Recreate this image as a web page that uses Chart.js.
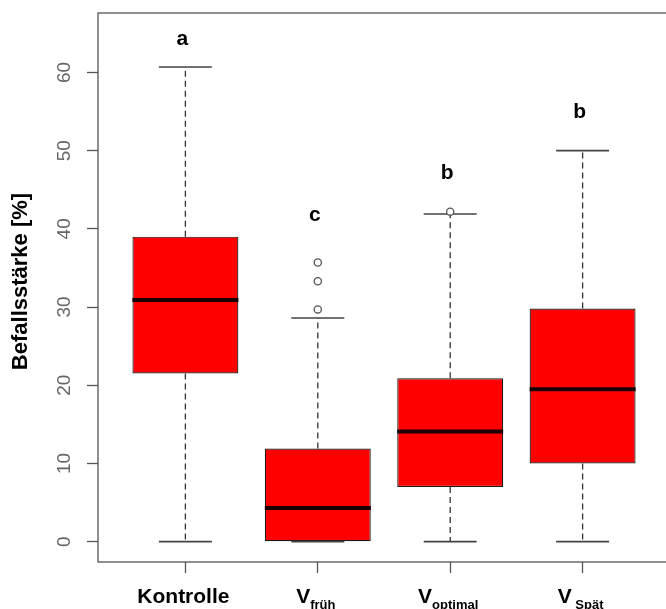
<!DOCTYPE html>
<html>
<head>
<meta charset="utf-8">
<script src="https://cdn.jsdelivr.net/npm/chart.js@4.4.1/dist/chart.umd.min.js"></script>
<style>
  html, body { margin: 0; padding: 0; background: #fff; overflow: hidden; }
  #wrap { width: 700px; height: 609px; }
</style>
</head>
<body>
<div id="wrap"><canvas id="mycanvas" width="700" height="609"></canvas></div>
<script>
// values
var categories = ['Kontrolle', 'V', 'V', 'V'];
var subLabels = ['', 'früh', 'optimal', ' Spät'];
var whiskerLow = [0, 0, 0, 0];
var q1 = [21.5, 0, 7.0, 10.0];
var median = [30.9, 4.3, 14.1, 19.5];
var q3 = [39.0, 11.9, 20.9, 29.8];
var whiskerHigh = [60.7, 28.6, 41.9, 50.0];
// outliers: [group, value]
var outliers = [[2, 29.7], [2, 33.3], [2, 35.7], [3, 42.2]];
var letters = ['a', 'c', 'b', 'b'];
var letterY = [63.5, 41.0, 46.4, 54.2];
var yTicks = [0, 10, 20, 30, 40, 50, 60];

var boxData = [], medData = [], whiskData = [], capData = [], outData = [];
for (var i = 0; i < categories.length; i++) {
  var x = i + 1;
  boxData.push({x: x, y: [q1[i], q3[i]]});
  medData.push({x: x - 0.4, y: median[i]}, {x: x + 0.4, y: median[i]}, {x: x, y: null});
  whiskData.push({x: x, y: q3[i]}, {x: x, y: whiskerHigh[i]}, {x: x, y: null});
  whiskData.push({x: x, y: q1[i]}, {x: x, y: whiskerLow[i]}, {x: x, y: null});
  capData.push({x: x - 0.2, y: whiskerHigh[i]}, {x: x + 0.2, y: whiskerHigh[i]}, {x: x, y: null});
  capData.push({x: x - 0.2, y: whiskerLow[i]}, {x: x + 0.2, y: whiskerLow[i]}, {x: x, y: null});
}
for (var j = 0; j < outliers.length; j++) {
  outData.push({x: outliers[j][0], y: outliers[j][1]});
}

var textPlugin = {
  id: 'rtext',
  afterDraw: function(chart) {
    var ctx = chart.ctx, a = chart.chartArea;
    var xs = chart.scales.x, ys = chart.scales.y;
    ctx.save();
    // frame
    ctx.strokeStyle = '#555';
    ctx.lineWidth = 1.3;
    ctx.strokeRect(a.left, a.top, a.right - a.left, a.bottom - a.top);

    // y tick labels, rotated like R
    ctx.fillStyle = '#666';
    ctx.font = '19px "Liberation Sans", Arial, sans-serif';
    ctx.textAlign = 'center';
    ctx.textBaseline = 'middle';
    yTicks.forEach(function(v) {
      ctx.save();
      ctx.translate(65, ys.getPixelForValue(v));
      ctx.rotate(-Math.PI / 2);
      ctx.fillText(String(v), 0, 0);
      ctx.restore();
    });

    // y axis title
    ctx.save();
    ctx.fillStyle = '#000';
    ctx.font = 'bold 22px "Liberation Sans", Arial, sans-serif';
    ctx.translate(21, (a.top + a.bottom) / 2 - 6);
    ctx.rotate(-Math.PI / 2);
    ctx.fillText('Befallsstärke [%]', 0, 0);
    ctx.restore();

    // x labels with subscripts
    ctx.fillStyle = '#000';
    ctx.textAlign = 'left';
    ctx.textBaseline = 'alphabetic';
    categories.forEach(function(c, i) {
      var px = xs.getPixelForValue(i + 1);
      ctx.font = 'bold 21px "Liberation Sans", Arial, sans-serif';
      var w1 = ctx.measureText(c).width;
      ctx.font = 'bold 13px "Liberation Sans", Arial, sans-serif';
      var w2 = ctx.measureText(subLabels[i]).width;
      var x0 = px - (w1 + w2) / 2 - 2;
      ctx.font = 'bold 21px "Liberation Sans", Arial, sans-serif';
      ctx.fillText(c, x0, 603);
      ctx.font = 'bold 13px "Liberation Sans", Arial, sans-serif';
      ctx.fillText(subLabels[i], x0 + w1, 609);
    });

    // significance letters
    ctx.font = 'bold 21px "Liberation Sans", Arial, sans-serif';
    ctx.textAlign = 'center';
    letters.forEach(function(l, i) {
      ctx.fillText(l, xs.getPixelForValue(i + 1) - 3, ys.getPixelForValue(letterY[i]));
    });
    ctx.restore();
  }
};

var ctx = document.getElementById('mycanvas');

var chart = new Chart(ctx, {
  type: 'bar',
  data: {
    datasets: [
      {
        type: 'bar',
        data: boxData,
        backgroundColor: '#ff0000',
        borderColor: '#1a1a1a',
        borderWidth: 1.2,
        borderSkipped: false,
        grouped: false,
        barPercentage: 0.8,
        categoryPercentage: 1,
        order: 4
      },
      {
        type: 'line',
        data: whiskData,
        borderColor: '#333',
        borderWidth: 1.3,
        borderDash: [6, 4],
        pointRadius: 0,
        fill: false,
        order: 3
      },
      {
        type: 'line',
        data: capData,
        borderColor: '#444',
        borderWidth: 1.6,
        pointRadius: 0,
        fill: false,
        order: 3
      },
      {
        type: 'line',
        data: medData,
        borderColor: '#1a0000',
        borderWidth: 4,
        borderCapStyle: 'butt',
        pointRadius: 0,
        fill: false,
        order: 1
      },
      {
        type: 'line',
        data: outData,
        showLine: false,
        pointStyle: 'circle',
        pointRadius: 3.6,
        pointBackgroundColor: '#fff',
        pointBorderColor: '#555',
        pointBorderWidth: 1.3,
        order: 0
      }
    ]
  },
  options: {
    responsive: false,
    animation: false,
    devicePixelRatio: 1,
    layout: { padding: { top: 13, right: 30, left: 0, bottom: 0 } },
    plugins: { legend: { display: false }, tooltip: { enabled: false } },
    scales: {
      x: {
        type: 'linear',
        min: 0.34,
        max: 4.66,
        offset: false,
        afterBuildTicks: function(s) { s.ticks = [1, 2, 3, 4].map(function(v) { return {value: v}; }); },
        afterFit: function(s) { s.height = 47; },
        ticks: { display: false },
        border: { display: false },
        grid: { offset: false, drawOnChartArea: false, drawTicks: true, tickLength: 11, tickColor: '#555', tickWidth: 1.3 }
      },
      y: {
        type: 'linear',
        min: -2.6,
        max: 67.6,
        afterBuildTicks: function(s) { s.ticks = yTicks.map(function(v) { return {value: v}; }); },
        afterFit: function(s) { s.width = 98; },
        ticks: { display: false },
        border: { display: false },
        grid: { drawOnChartArea: false, drawTicks: true, tickLength: 11, tickColor: '#555', tickWidth: 1.3 }
      }
    }
  },
  plugins: [textPlugin]
});
</script>
</body>
</html>
